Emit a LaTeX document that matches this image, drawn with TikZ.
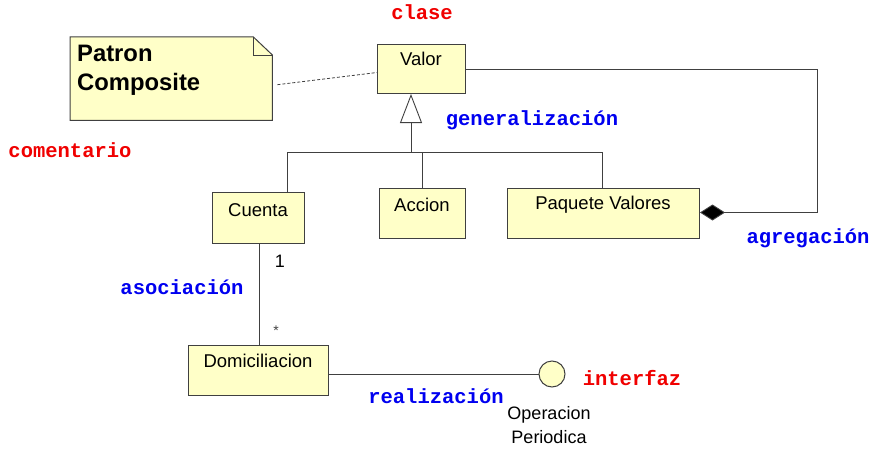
\documentclass[tikz,border=0pt]{standalone}
\usepackage{fontspec}
\setmainfont{Liberation Sans}
\newfontfamily\monof{Liberation Mono}
\usetikzlibrary{arrows.meta,calc}
\definecolor{boxfill}{HTML}{FFFFC8}
\definecolor{lineclr}{HTML}{404040}
\definecolor{lblblue}{HTML}{0000F0}
\definecolor{lblred}{HTML}{F00000}
\tikzset{
  umlbox/.style={draw=lineclr,fill=boxfill,line width=1pt,anchor=north west,inner sep=0pt},
  boxtext/.style={font=\fontsize{18.5}{22}\selectfont,inner sep=0pt,text=black},
  conn/.style={draw=lineclr,line width=0.9pt},
  bluelbl/.style={font=\monof\bfseries\fontsize{20.5}{24}\selectfont,text=lblblue,inner sep=0pt},
  redlbl/.style={font=\monof\bfseries\fontsize{20.5}{24}\selectfont,text=lblred,inner sep=0pt},
}
\begin{document}
\begin{tikzpicture}[x=1pt,y=-1pt]
\useasboundingbox (0,0) rectangle (875,452);
% note
\node[inner sep=0pt,minimum width=202pt,minimum height=83pt,anchor=north west] (note) at (70,37) {};
\draw[draw=lineclr,fill=boxfill,line width=1pt]
  (note.south west) -- (note.north west) -- ([xshift=-19pt]note.north east)
  -- ([yshift=-18pt]note.north east) -- (note.south east) -- cycle;
\draw[draw=lineclr,line width=0.9pt] ([xshift=-19pt]note.north east) -- ([xshift=-19pt,yshift=-18pt]note.north east) -- ([yshift=-18pt]note.north east);
\node[font=\bfseries\fontsize{23.8}{29}\selectfont,align=left,anchor=north west,inner sep=0pt] (notetext) at (77,45) {Patron\\Composite};
% classes
\node[umlbox,minimum width=88pt,minimum height=49pt] (valor) at (377,44) {};
\node[boxtext] (valorT) at (421,59) {Valor};
\node[umlbox,minimum width=92pt,minimum height=51pt] (cuenta) at (212,192) {};
\node[boxtext] (cuentaT) at (258,210) {Cuenta};
\node[umlbox,minimum width=86pt,minimum height=50pt] (accion) at (379,188) {};
\node[boxtext] (accionT) at (422,205) {Accion};
\node[umlbox,minimum width=192pt,minimum height=50pt] (paquete) at (507,188) {};
\node[boxtext] (paqueteT) at (603,205) {Paquete Valores};
\node[umlbox,minimum width=140pt,minimum height=50pt] (domic) at (188,345) {};
\node[boxtext] (domicT) at (258,361) {Domiciliacion};
% interface
\node[circle,draw=lineclr,fill=boxfill,line width=1pt,minimum size=26pt,inner sep=0pt] (iface) at (552,374) {};
\node[boxtext,align=center,font=\fontsize{18}{24}\selectfont] (ifaceT) at (549,425) {Operacion\\Periodica};
% generalization
\coordinate (gj) at (411,152);
\draw[conn,-{Triangle[open,length=29pt,width=22pt,fill=white,line width=0.9pt]}] (gj) -- (gj |- valor.south);
\draw[conn] (cuenta.north -| 287,0) -- (287,152) -- (602,152) -- (paquete.north -| 602,0);
\draw[conn] (gj) -- (gj -| accion.north) -- (accion.north);
% aggregation
\coordinate (aggx) at (817,0);
\draw[conn,-{Diamond[length=25pt,width=16pt,fill=black]}] (valor.east) -- (valor.east -| aggx) -- ($(paquete.east -| aggx)+(0,-1)$) -- ($(paquete.east)+(0,-1)$);
% note link
\draw[conn,dash pattern=on 3pt off 2pt,line width=0.8pt] ([xshift=5pt,yshift=-6pt]note.east) -- ([yshift=-3.5pt]valor.west);
% association
\draw[conn] (cuenta.south -| 259,0) -- (domic.north -| 259,0);
\node[font=\normalfont\fontsize{18}{20}\selectfont,inner sep=0pt] (mult1) at (280,261) {1};
\node[font=\fontsize{14}{16}\selectfont,inner sep=0pt,text=lineclr] (multS) at (276,331) {*};
% realization
\draw[conn] (domic.east |- iface) -- (iface.west);
% labels
\node[redlbl] (lclase) at (422,12) {clase};
\node[redlbl] (lcoment) at (70,150) {comentario};
\node[bluelbl] (lgen) at (532,120) {generalización};
\node[bluelbl] (lagr) at (808,238) {agregación};
\node[bluelbl] (lasoc) at (182,287) {asociación};
\node[bluelbl] (lreal) at (436,396) {realización};
\node[redlbl] (linter) at (632,378) {interfaz};
\end{tikzpicture}
\end{document}
